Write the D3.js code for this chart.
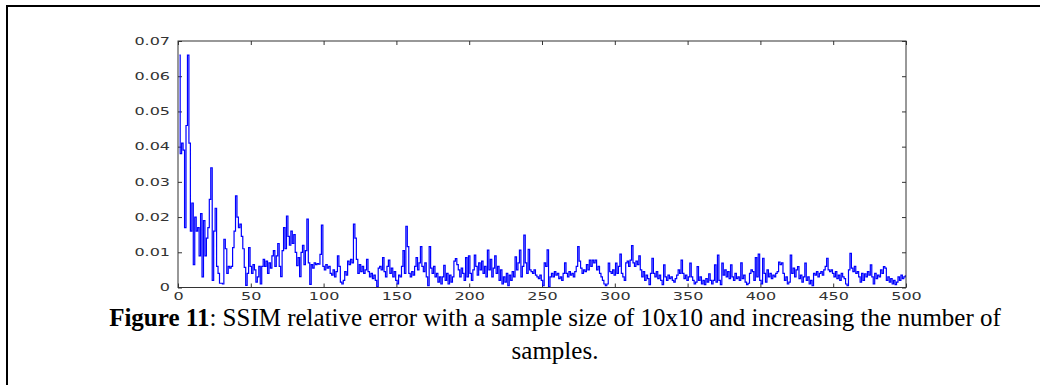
<!DOCTYPE html>
<html>
<head>
<meta charset="utf-8">
<script src="https://cdn.jsdelivr.net/npm/d3@7"></script>
<style>
  html, body { margin: 0; padding: 0; background: #fff; }
  svg { display: block; }
  .tick text { font-family: "DejaVu Sans", sans-serif; font-size: 10px; fill: #333; }
  .tick line { stroke: #333; }
</style>
</head>
<body>
<svg id="chart" width="1040" height="385"></svg>
<script>
// SSIM relative error, one value per sample count (1..500)
const ssimError = [
  0.0660, 0.0380, 0.0410, 0.0390, 0.0170, 0.0460, 0.0660, 0.0410, 0.0160, 0.0240,
  0.0065, 0.0200, 0.0160, 0.0170, 0.0090, 0.0210, 0.0030, 0.0190, 0.0090, 0.0140,
  0.0170, 0.0250, 0.0340, 0.0020, 0.0160, 0.0225, 0.0060, 0.0040, 0.0012, 0.0012,
  0.0010, 0.0137, 0.0110, 0.0040, 0.0060, 0.0055, 0.0060, 0.0113, 0.0160, 0.0260,
  0.0200, 0.0170, 0.0180, 0.0145, 0.0110, 0.0057, 0.0006, 0.0040, 0.0113, 0.0060,
  0.0040, 0.0065, 0.0050, 0.0015, 0.0030, 0.0060, 0.0010, 0.0060, 0.0080, 0.0060,
  0.0075, 0.0040, 0.0070, 0.0055, 0.0090, 0.0105, 0.0060, 0.0090, 0.0125, 0.0060,
  0.0031, 0.0105, 0.0170, 0.0110, 0.0203, 0.0145, 0.0120, 0.0160, 0.0125, 0.0150,
  0.0100, 0.0062, 0.0085, 0.0031, 0.0100, 0.0120, 0.0065, 0.0105, 0.0194, 0.0070,
  0.0009, 0.0065, 0.0055, 0.0070, 0.0065, 0.0068, 0.0066, 0.0094, 0.0177, 0.0060,
  0.0050, 0.0065, 0.0055, 0.0060, 0.0040, 0.0035, 0.0050, 0.0030, 0.0045, 0.0090,
  0.0060, 0.0015, 0.0010, 0.0020, 0.0045, 0.0035, 0.0075, 0.0065, 0.0080, 0.0070,
  0.0180, 0.0140, 0.0080, 0.0040, 0.0065, 0.0045, 0.0060, 0.0040, 0.0050, 0.0080,
  0.0045, 0.0030, 0.0040, 0.0025, 0.0035, 0.0020, 0.0002, 0.0055, 0.0060, 0.0050,
  0.0085, 0.0045, 0.0030, 0.0060, 0.0078, 0.0040, 0.0055, 0.0030, 0.0045, 0.0020,
  0.0010, 0.0035, 0.0030, 0.0060, 0.0105, 0.0040, 0.0174, 0.0116, 0.0040, 0.0030,
  0.0045, 0.0035, 0.0060, 0.0085, 0.0050, 0.0070, 0.0116, 0.0060, 0.0045, 0.0070,
  0.0030, 0.0005, 0.0116, 0.0055, 0.0040, 0.0060, 0.0030, 0.0040, 0.0015, 0.0030,
  0.0010, 0.0030, 0.0063, 0.0020, 0.0040, 0.0010, 0.0035, 0.0015, 0.0030, 0.0075,
  0.0082, 0.0065, 0.0050, 0.0030, 0.0055, 0.0040, 0.0020, 0.0085, 0.0030, 0.0090,
  0.0040, 0.0020, 0.0050, 0.0092, 0.0060, 0.0035, 0.0070, 0.0050, 0.0075, 0.0040,
  0.0060, 0.0030, 0.0106, 0.0050, 0.0080, 0.0030, 0.0055, 0.0090, 0.0040, 0.0060,
  0.0020, 0.0050, 0.0010, 0.0030, 0.0015, 0.0040, 0.0005, 0.0035, 0.0020, 0.0045,
  0.0030, 0.0087, 0.0050, 0.0070, 0.0106, 0.0030, 0.0060, 0.0149, 0.0070, 0.0040,
  0.0108, 0.0050, 0.0045, 0.0040, 0.0050, 0.0035, 0.0030, 0.0025, 0.0035, 0.0020,
  0.0005, 0.0070, 0.0060, 0.0107, 0.0002, 0.0030, 0.0040, 0.0030, 0.0045, 0.0035,
  0.0040, 0.0025, 0.0030, 0.0020, 0.0040, 0.0070, 0.0040, 0.0030, 0.0045, 0.0035,
  0.0040, 0.0030, 0.0045, 0.0060, 0.0116, 0.0075, 0.0055, 0.0040, 0.0050, 0.0045,
  0.0065, 0.0050, 0.0078, 0.0060, 0.0078, 0.0070, 0.0078, 0.0050, 0.0060, 0.0040,
  0.0030, 0.0020, 0.0010, 0.0005, 0.0010, 0.0069, 0.0045, 0.0040, 0.0050, 0.0035,
  0.0069, 0.0040, 0.0060, 0.0095, 0.0040, 0.0030, 0.0020, 0.0070, 0.0075, 0.0060,
  0.0078, 0.0119, 0.0070, 0.0060, 0.0075, 0.0065, 0.0090, 0.0050, 0.0030, 0.0045,
  0.0020, 0.0035, 0.0025, 0.0008, 0.0040, 0.0083, 0.0040, 0.0030, 0.0045, 0.0025,
  0.0035, 0.0020, 0.0008, 0.0064, 0.0030, 0.0020, 0.0035, 0.0025, 0.0030, 0.0020,
  0.0015, 0.0025, 0.0035, 0.0050, 0.0040, 0.0078, 0.0040, 0.0025, 0.0035, 0.0020,
  0.0030, 0.0069, 0.0030, 0.0020, 0.0010, 0.0015, 0.0059, 0.0020, 0.0030, 0.0010,
  0.0020, 0.0008, 0.0025, 0.0015, 0.0039, 0.0020, 0.0010, 0.0020, 0.0064, 0.0015,
  0.0092, 0.0020, 0.0008, 0.0069, 0.0035, 0.0050, 0.0030, 0.0045, 0.0025, 0.0064,
  0.0030, 0.0020, 0.0040, 0.0025, 0.0030, 0.0020, 0.0070, 0.0025, 0.0035, 0.0015,
  0.0008, 0.0012, 0.0040, 0.0050, 0.0045, 0.0020, 0.0085, 0.0030, 0.0095, 0.0020,
  0.0010, 0.0083, 0.0040, 0.0015, 0.0050, 0.0030, 0.0040, 0.0025, 0.0035, 0.0030,
  0.0040, 0.0045, 0.0072, 0.0065, 0.0070, 0.0040, 0.0020, 0.0030, 0.0010, 0.0015,
  0.0092, 0.0040, 0.0055, 0.0030, 0.0050, 0.0059, 0.0025, 0.0035, 0.0015, 0.0030,
  0.0069, 0.0020, 0.0030, 0.0010, 0.0020, 0.0005, 0.0040, 0.0035, 0.0045, 0.0030,
  0.0040, 0.0045, 0.0035, 0.0050, 0.0060, 0.0083, 0.0050, 0.0045, 0.0050, 0.0040,
  0.0030, 0.0045, 0.0025, 0.0035, 0.0020, 0.0040, 0.0030, 0.0025, 0.0010, 0.0005,
  0.0050, 0.0097, 0.0055, 0.0045, 0.0060, 0.0040, 0.0045, 0.0030, 0.0015, 0.0040,
  0.0020, 0.0039, 0.0030, 0.0045, 0.0035, 0.0064, 0.0030, 0.0010, 0.0040, 0.0025,
  0.0035, 0.0030, 0.0050, 0.0040, 0.0059, 0.0055, 0.0020, 0.0030, 0.0015, 0.0025,
  0.0010, 0.0020, 0.0008, 0.0015, 0.0030, 0.0020, 0.0035, 0.0025, 0.0030, 0.0033
];
const xTicks = [0, 50, 100, 150, 200, 250, 300, 350, 400, 450, 500];
const yTicks = [0, 0.01, 0.02, 0.03, 0.04, 0.05, 0.06, 0.07];
const captionBold = "Figure 11";
const captionRest = ": SSIM relative error with a sample size of 10x10 and increasing the number of";
const captionLine2 = "samples.";

const svg = d3.select("#chart");

//Page frame
svg.append("path")
    .attr("d", "M7,386 L7,6 L1041,6")
    .attr("fill", "none")
    .attr("stroke", "#000")
    .attr("stroke-width", 2);

//Scales
const plot = { left: 178, right: 906, top: 41, bottom: 287.5 };
const x = d3.scaleLinear().domain([0, 500]).range([plot.left, plot.right]);
const y = d3.scaleLinear().domain([0, 0.07]).range([plot.bottom, plot.top]);

//the old matlab bitmap font is much wider than dejavu, stretch labels to match
const widenLabels = g => g.selectAll(".tick text").each(function () {
    const w = this.getComputedTextLength();
    d3.select(this)
        .attr("textLength", w * 1.6)
        .attr("lengthAdjust", "spacingAndGlyphs");
});

//Axes (ticks pointing inward, matlab style)
const fmtY = d => d === 0 ? "0" : d3.format(".2f")(d);
svg.append("g")
    .attr("transform", `translate(0, ${plot.bottom})`)
    .call(d3.axisBottom(x).tickValues(xTicks).tickSizeInner(-4).tickSizeOuter(0).tickPadding(5))
    .call(g => g.select(".domain").remove())
    .call(widenLabels);
svg.append("g")
    .attr("transform", `translate(0, ${plot.top})`)
    .call(d3.axisTop(x).tickValues(xTicks).tickSizeInner(-4).tickSizeOuter(0).tickFormat(""))
    .call(g => g.select(".domain").remove());
svg.append("g")
    .attr("transform", `translate(${plot.left}, 0)`)
    .call(d3.axisLeft(y).tickValues(yTicks).tickSizeInner(-4).tickSizeOuter(0).tickPadding(8).tickFormat(fmtY))
    .call(g => g.select(".domain").remove())
    .call(widenLabels);
svg.append("g")
    .attr("transform", `translate(${plot.right}, 0)`)
    .call(d3.axisRight(y).tickValues(yTicks).tickSizeInner(-4).tickSizeOuter(0).tickFormat(""))
    .call(g => g.select(".domain").remove());

//Series (stair look of the low-res matlab render)
const line = d3.line()
    .x((d, i) => x(i + 1))
    .y(d => y(d))
    .curve(d3.curveStep);
svg.append("path")
    .datum(ssimError)
    .attr("fill", "none")
    .attr("stroke", "#0000ff")
    .attr("stroke-width", 1.2)
    .attr("d", line);

//Box
svg.append("rect")
    .attr("x", plot.left)
    .attr("y", plot.top)
    .attr("width", plot.right - plot.left)
    .attr("height", plot.bottom - plot.top)
    .attr("fill", "none")
    .attr("stroke", "#333")
    .attr("stroke-width", 1);

//Caption
const capFont = "'Liberation Serif', 'Times New Roman', serif";
const cap = svg.append("text")
    .attr("x", 555)
    .attr("y", 326)
    .attr("text-anchor", "middle")
    .style("font-family", capFont)
    .style("font-size", "25px")
    .style("fill", "#000");
cap.append("tspan").style("font-weight", "bold").text(captionBold);
cap.append("tspan").text(captionRest);
svg.append("text")
    .attr("x", 555)
    .attr("y", 359)
    .attr("text-anchor", "middle")
    .style("font-family", capFont)
    .style("font-size", "25px")
    .style("fill", "#000")
    .text(captionLine2);
</script>
</body>
</html>
